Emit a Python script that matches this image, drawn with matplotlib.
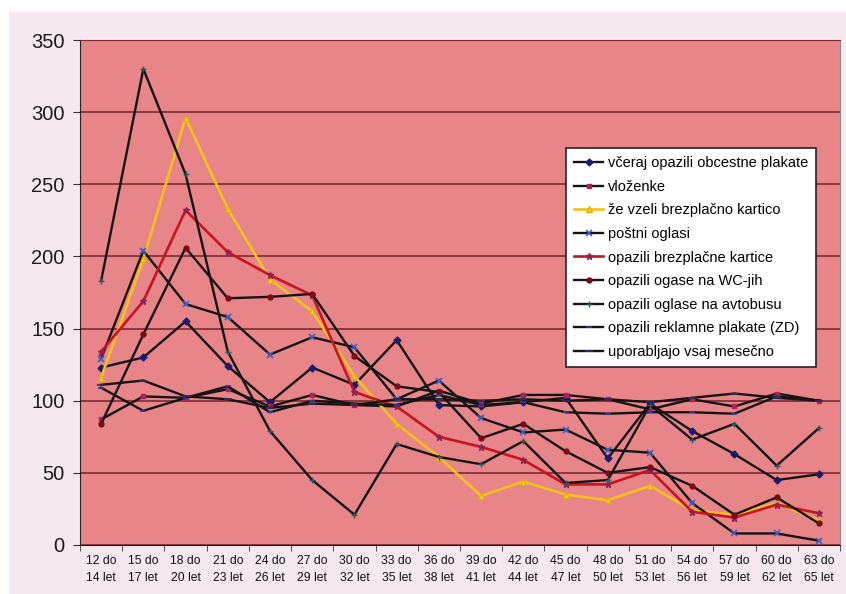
import matplotlib
matplotlib.use('Agg')
import matplotlib.pyplot as plt
from matplotlib.patches import Rectangle

plt.rcParams['font.family'] = ['Liberation Sans', 'DejaVu Sans']

# starostne skupine
kategorije = ['12 do\n14 let', '15 do\n17 let', '18 do\n20 let', '21 do\n23 let',
              '24 do\n26 let', '27 do\n29 let', '30 do\n32 let', '33 do\n35 let',
              '36 do\n38 let', '39 do\n41 let', '42 do\n44 let', '45 do\n47 let',
              '48 do\n50 let', '51 do\n53 let', '54 do\n56 let', '57 do\n59 let',
              '60 do\n62 let', '63 do\n65 let']

vceraj = [123, 130, 155, 124, 99, 123, 111, 142, 97, 96, 99, 102, 60, 98, 79, 63, 45, 49]
vlozenke = [87, 103, 102, 108, 96, 104, 97, 96, 107, 98, 104, 104, 101, 94, 101, 96, 105, 100]
ze_vzeli = [116, 198, 296, 233, 184, 162, 117, 84, 61, 34, 44, 35, 31, 41, 24, 21, 29, 17]
postni = [129, 204, 167, 158, 132, 144, 137, 101, 114, 88, 78, 80, 66, 64, 29, 8, 8, 3]
kartice = [134, 169, 232, 203, 187, 173, 106, 96, 75, 68, 59, 42, 42, 52, 23, 19, 28, 22]
wc = [84, 146, 206, 171, 172, 174, 131, 110, 106, 74, 84, 65, 50, 54, 41, 21, 33, 15]
avtobus = [183, 330, 257, 134, 79, 45, 21, 70, 61, 56, 72, 43, 45, 97, 73, 84, 55, 81]
plakati_zd = [109, 93, 102, 110, 92, 100, 98, 97, 104, 97, 99, 92, 91, 92, 92, 91, 103, 100]
mesecno = [111, 114, 103, 101, 95, 98, 97, 101, 101, 100, 101, 100, 101, 99, 102, 105, 102, 100]

y_ticks = [0, 50, 100, 150, 200, 250, 300, 350]

fig = plt.figure(figsize=(8.46, 5.94), dpi=100, facecolor='white')
# svetlo roza ozadje grafikona
fig.patches.append(Rectangle((9 / 846, 0), 1, 1 - 12 / 594, transform=fig.transFigure,
                             facecolor='#f6e8f0', edgecolor='none', zorder=-10))

ax = fig.add_axes([80 / 846, 1 - 545 / 594, 760 / 846, 505 / 594])
ax.set_facecolor('#e88588')

x = list(range(len(kategorije)))
blk = '#141414'

ax.plot(x, vceraj, color=blk, lw=1.7, marker='D', ms=3.5, mfc='#1a1a70', mec='#1a1a70',
        label='včeraj opazili obcestne plakate')
ax.plot(x, vlozenke, color=blk, lw=1.7, marker='s', ms=3.5, mfc='#b0205a', mec='#b0205a',
        label='vloženke')
ax.plot(x, ze_vzeli, color='#f5c21b', lw=1.9, marker='^', ms=4, mfc='#f5d020', mec='#e0b010',
        label='že vzeli brezplačno kartico')
ax.plot(x, postni, color=blk, lw=1.7, marker='x', ms=4, mec='#3c5cc8', mew=1.2,
        label='poštni oglasi')
ax.plot(x, kartice, color='#c8141e', lw=1.9, marker='*', ms=5, mfc='#902050', mec='#902050',
        label='opazili brezplačne kartice')
ax.plot(x, wc, color=blk, lw=1.7, marker='o', ms=3.5, mfc='#7a0a14', mec='#7a0a14',
        label='opazili ogase na WC-jih')
ax.plot(x, avtobus, color=blk, lw=1.7, marker='+', ms=4, mec='#305a60', mew=1,
        label='opazili oglase na avtobusu')
ax.plot(x, plakati_zd, color=blk, lw=1.7, marker='_', ms=4, mec='#3040a0', mew=1.2,
        label='opazili reklamne plakate (ZD)')
ax.plot(x, mesecno, color=blk, lw=1.7, marker='_', ms=6, mec='#303060', mew=1.2,
        label='uporabljajo vsaj mesečno')

ax.set_xlim(-0.5, len(kategorije) - 0.5)
ax.set_ylim(0, 350)
ax.set_yticks(y_ticks)
ax.set_yticklabels([str(v) for v in y_ticks], fontsize=14.5, color='#1a1a1a')
ax.yaxis.grid(True, color='#7a2a32', lw=1.2)
ax.set_axisbelow(True)

ax.set_xticks(x)
ax.set_xticklabels(kategorije, fontsize=8.7, linespacing=1.55, color='#111111')
ax.set_xticks([i - 0.5 for i in range(len(kategorije) + 1)], minor=True)
ax.tick_params(axis='x', which='major', length=0, pad=7)
ax.tick_params(axis='x', which='minor', length=4, direction='out', color='#333333')
ax.tick_params(axis='y', length=5, direction='out', color='#333333', pad=6)

ax.spines['left'].set_color('#222222')
ax.spines['bottom'].set_color('#222222')
ax.spines['top'].set_color('#7a2a32')
ax.spines['right'].set_color('#8a8a8a')

leg = ax.legend(loc='upper left', bbox_to_anchor=(566 / 846, 1 - 148 / 594),
                bbox_transform=fig.transFigure, fontsize=10.5, frameon=True,
                fancybox=False, borderaxespad=0, labelspacing=0.66,
                handlelength=2.0, handletextpad=0.3, borderpad=0.55)
leg.get_frame().set_edgecolor('#222222')
leg.get_frame().set_facecolor('white')
leg.get_frame().set_alpha(1)
leg.get_frame().set_linewidth(1.2)

plt.savefig('out.png', dpi=100, facecolor=fig.get_facecolor())
